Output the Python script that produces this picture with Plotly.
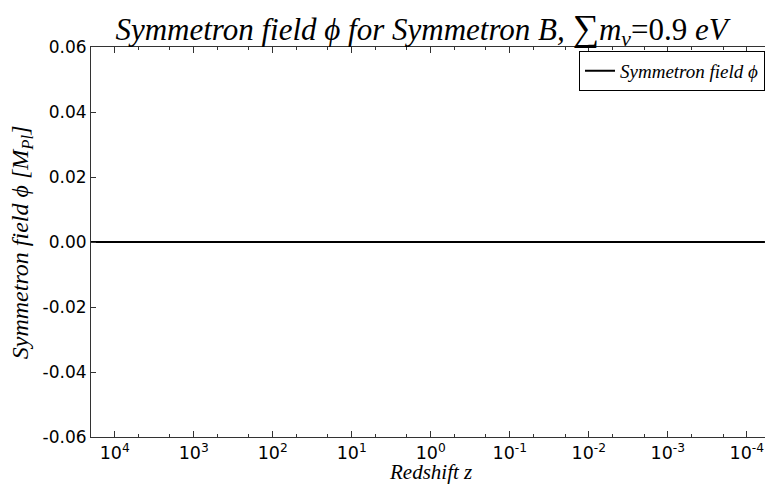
import plotly.graph_objects as go

# Data
redshift_z = [19953.0, 1e4, 1e3, 1e2, 1e1, 1.0, 1e-1, 1e-2, 1e-3, 1e-4, 5.9e-5]
phi_values = [0.0, 0.0, 0.0, 0.0, 0.0, 0.0, 0.0, 0.0, 0.0, 0.0, 0.0]
y_tick_vals = [-0.06, -0.04, -0.02, 0.00, 0.02, 0.04, 0.06]
y_tick_text = ["-0.06", "-0.04", "-0.02", "0.00", "0.02", "0.04", "0.06"]
x_tick_vals = [1e4, 1e3, 1e2, 1e1, 1e0, 1e-1, 1e-2, 1e-3, 1e-4]
x_tick_text = ["10<sup>4</sup>", "10<sup>3</sup>", "10<sup>2</sup>", "10<sup>1</sup>", "10<sup>0</sup>",
               "10<sup>-1</sup>", "10<sup>-2</sup>", "10<sup>-3</sup>", "10<sup>-4</sup>"]

serif = "Liberation Serif, DejaVu Serif, serif"
sans = "DejaVu Sans, sans-serif"

fig = go.Figure()
fig.add_trace(go.Scatter(
    x=redshift_z, y=phi_values, mode="lines",
    line=dict(color="black", width=2),
    name="<i>Symmetron field ϕ</i>",
))

fig.update_layout(
    width=765, height=485,
    margin=dict(l=91, r=0, t=47, b=48),
    paper_bgcolor="white", plot_bgcolor="white",
    title=dict(
        text="<i>Symmetron field ϕ for Symmetron B, </i><span style='font-size:37px'>∑</span><i>m</i><sub><i>ν</i></sub>=0.9 <i>eV</i>",
        x=0.551, xanchor="center", xref="container",
        y=0.94, yanchor="middle", yref="container",
        font=dict(family=serif, size=31, color="black"),
    ),
    showlegend=True,
    legend=dict(
        x=1.0, xanchor="right", y=0.99, yanchor="top",
        bgcolor="white", bordercolor="black", borderwidth=1,
        font=dict(family=serif, size=19, color="black"),
        tracegroupgap=0,
    ),
)

fig.update_xaxes(
    type="log", range=[4.30, -4.23],
    showline=True, linecolor="#333", linewidth=1, mirror="ticks",
    showgrid=False, zeroline=False,
    tickvals=x_tick_vals, ticktext=x_tick_text,
    ticks="inside", ticklen=6, tickcolor="#333",
    minor=dict(ticks="inside", ticklen=3, tickcolor="#333", showgrid=False),
    tickfont=dict(family=sans, size=17.5, color="black"),
    ticklabelstandoff=0,
)
fig.update_yaxes(
    range=[-0.06, 0.06],
    showline=True, linecolor="#333", linewidth=1, mirror=False,
    showgrid=False, zeroline=False,
    tickvals=y_tick_vals, ticktext=y_tick_text,
    ticks="inside", ticklen=5, tickcolor="#333",
    tickfont=dict(family=sans, size=17, color="black"),
    ticklabelstandoff=0,
)

fig.add_annotation(
    text="<i>Redshift z</i>",
    xref="paper", yref="paper", x=0.504, y=-0.123,
    xanchor="center", yanchor="bottom", showarrow=False,
    font=dict(family=serif, size=21, color="black"), borderpad=0,
)
fig.add_annotation(
    text="<i>Symmetron field ϕ [M<sub>Pl</sub>]</i>",
    xref="paper", yref="paper", x=-0.102, y=0.5,
    xanchor="center", yanchor="middle", textangle=-90, showarrow=False,
    font=dict(family=serif, size=24, color="black"),
)

fig.write_html("out.html")
